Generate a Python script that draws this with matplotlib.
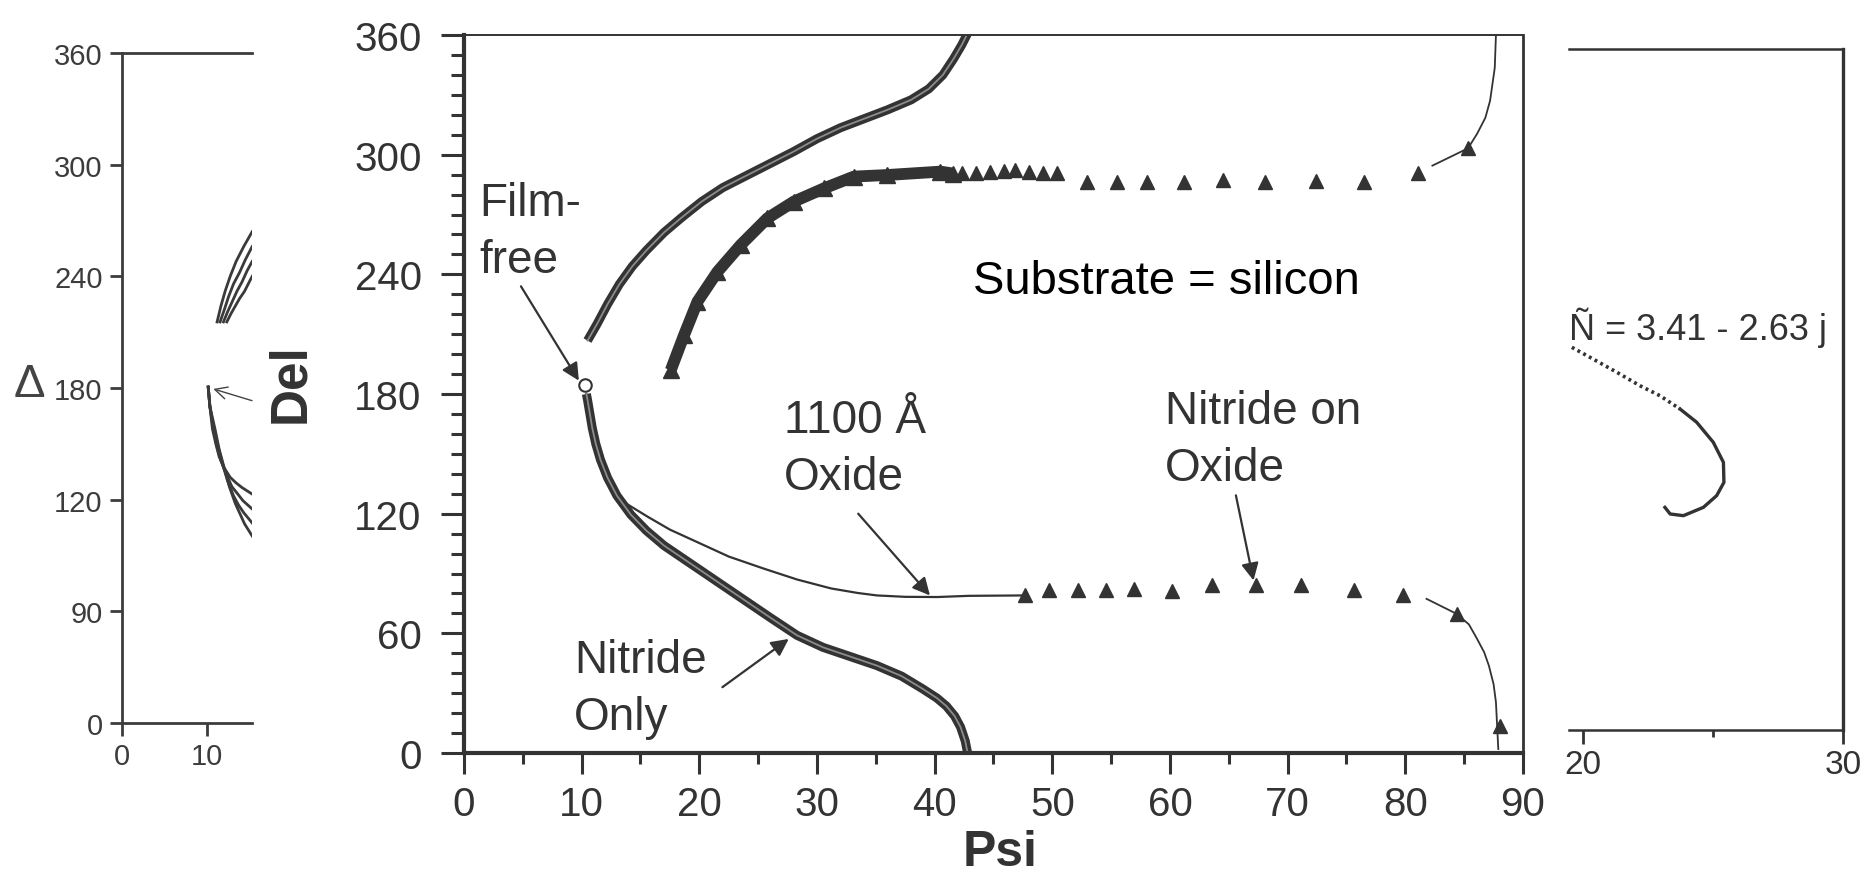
import matplotlib.pyplot as plt
from matplotlib.ticker import FixedLocator, MultipleLocator

plt.rcParams['font.family'] = ['Liberation Sans', 'DejaVu Sans']

INK = '#333333'
W, H = 1874, 878

# ---- main panel (Psi / Del) ----
nitride_up_psi = [10.5, 11.3, 12.2, 13.2, 14.3, 15.5, 17.0, 18.5, 20.2, 22.0, 24.0, 26.0, 28.0,
                  30.0, 32.0, 34.0, 36.0, 38.0, 39.5, 40.7, 41.6, 42.3, 42.9]
nitride_up_del = [206.8, 215, 225, 235, 244, 252, 261, 268.5, 276.5, 283.5, 289.5, 295.5, 301.5,
                  308, 313.5, 318, 322.5, 327.5, 333, 340, 348, 355, 362]

nitride_lo_psi = [10.4, 10.5, 10.7, 10.9, 11.2, 11.6, 12.2, 13.0, 14.18, 15.5, 17.0, 18.5, 20.0,
                  22.0, 24.0, 26.0, 28.3, 30.5, 33.0, 35.1, 37.2, 39.0, 40.2, 41.0, 41.7, 42.2,
                  42.6, 42.8]
nitride_lo_del = [180, 177, 170, 163, 155, 147, 138, 129, 119.5, 111.5, 104, 98, 92,
                  84, 76, 68, 59, 53, 48, 43.8, 38.5, 32.1, 27.5, 23.5, 18.5, 13,
                  6, 0]

oxide_psi = [10.4, 10.5, 10.7, 10.9, 11.2, 11.6, 12.2, 12.8, 13.8, 15.6, 17.5, 19.8, 22.5,
             25.5, 28.3, 31.2, 33.5, 35.1, 37.5, 40.2, 42.9, 47.6]
oxide_del = [180, 177, 170, 163, 155, 147, 138.5, 131.5, 125, 118.5, 112, 105.8, 98.5,
             92.4, 87, 82.5, 80.2, 79.0, 78.3, 78.2, 78.8, 79.0]

dense_psi = [17.57, 18.7, 19.84, 21.54, 23.51, 25.78, 28.04, 30.59, 33.13, 35.97, 40.49, 41.6]
dense_del = [191.9, 209.5, 226.3, 241.3, 254.7, 268.1, 276.5, 283.1, 289.0, 289.8, 291.5, 290.5]

tri_up_psi = [42.34, 43.52, 44.7, 45.87, 46.85, 48.03, 49.21, 50.39, 52.94, 55.49, 58.04, 61.19,
              64.52, 68.06, 72.37, 76.5, 81.09, 85.33]
tri_up_del = [290.7, 290.7, 291.5, 291.8, 292.3, 291.5, 290.7, 291.0, 286.5, 286.5, 286.5, 286.5,
              287.3, 286.5, 286.8, 286.5, 290.7, 303.2]

tri_lo_psi = [47.64, 49.68, 52.15, 54.59, 56.95, 60.2, 63.54, 67.35, 71.12, 75.63, 79.83, 84.35, 88.08]
tri_lo_del = [79.0, 81.5, 81.5, 81.5, 82.3, 81.0, 84.3, 84.0, 84.3, 81.5, 79.0, 69.8, 13.7]

tail_up_psi = [82.3, 85.33, 86.1, 86.8, 87.2, 87.6, 87.7]
tail_up_del = [294.5, 303.2, 310.5, 318.5, 327.0, 343.5, 360.0]

tail_lo_psi = [81.8, 84.35, 85.4, 86.1, 86.7, 87.1, 87.5, 87.7, 87.9]
tail_lo_del = [77.3, 69.8, 64.5, 57.2, 50.5, 43.8, 34.5, 25.5, 2.0]

film_free = (10.27, 184.4)

main_xticks = [0, 10, 20, 30, 40, 50, 60, 70, 80, 90]
main_yticks = [0, 60, 120, 180, 240, 300, 360]

# ---- left panel (cut off at the right) ----
left_up_psi = [[11.25, 11.7, 12.2, 12.8, 13.5, 14.4, 15.4], [11.6, 12.1, 12.6, 13.2, 13.9, 14.6, 15.4],
               [12.0, 12.5, 13.0, 13.6, 14.2, 14.8, 15.4], [12.4, 12.9, 13.4, 13.9, 14.5, 15.0, 15.4]]
left_up_del = [[215.5, 224, 232, 240, 248, 256, 264], [215.5, 222, 229, 236, 242, 249, 256],
               [215.5, 221, 226, 232, 237, 243, 248], [215.5, 220, 224, 228, 232, 236.5, 240]]
left_lo_psi = [[10.2, 10.4, 10.7, 11.1, 11.5, 12.1, 12.8, 13.5, 14.2, 15.4],
               [10.2, 10.4, 10.8, 11.2, 11.7, 12.3, 13.0, 13.7, 14.3, 15.4],
               [10.2, 10.4, 10.9, 11.4, 11.9, 12.5, 13.2, 13.8, 14.4, 15.4],
               [10.2, 10.4, 11.0, 11.5, 12.1, 12.7, 13.4, 14.0, 14.5, 15.4]]
left_lo_del = [[180.5, 170, 158, 150, 143, 137, 132, 129, 126.5, 123],
               [180.5, 170, 158, 149, 141, 134, 127, 123, 119.5, 115],
               [180.5, 170, 158, 148, 139, 130, 122, 117, 113, 107.5],
               [180.5, 170, 158, 147, 137, 127, 118, 112, 107, 100.5]]
left_yticks = [0, 60, 120, 180, 240, 300, 360]
left_ylabels = ['0', '90', '120', '180', '240', '300', '360']
left_xticks = [0, 10]

# ---- right panel (cut off at the left) ----
right_dot_psi = [19.57, 20.27, 21.30, 22.19, 22.96, 23.73]
right_dot_del = [202.3, 197.0, 189.1, 182.0, 176.7, 169.7]
right_psi = [23.73, 24.37, 25.01, 25.40, 25.42, 25.14, 24.63, 23.86, 23.35, 23.15]
right_del = [169.7, 162.7, 152.1, 141.5, 130.9, 123.9, 117.7, 113.3, 114.2, 117.7]
right_xticks = [20, 30]


def box(l, t, r, b):
    return [l / W, 1 - b / H, (r - l) / W, (b - t) / H]


fig = plt.figure(figsize=(W / 100, H / 100), dpi=100)

# main axes
ax = fig.add_axes(box(464, 36, 1523, 754))
ax.set_xlim(0, 90)
ax.set_ylim(0, 360)
ax.spines['left'].set_linewidth(3)
ax.spines['bottom'].set_linewidth(3)
ax.spines['top'].set_linewidth(1.4)
ax.spines['right'].set_linewidth(2)
for s in ax.spines.values():
    s.set_color(INK)
ax.xaxis.set_major_locator(FixedLocator(main_xticks))
ax.yaxis.set_major_locator(FixedLocator(main_yticks))
ax.xaxis.set_minor_locator(MultipleLocator(5))
ax.yaxis.set_minor_locator(MultipleLocator(10))
ax.tick_params(axis='both', which='both', direction='out', color=INK, width=2.2,
               labelcolor=INK, labelsize=29)
ax.tick_params(axis='y', which='major', length=16.5, pad=14)
ax.tick_params(axis='y', which='minor', length=9.5)
ax.tick_params(axis='x', which='major', length=15, pad=8)
ax.tick_params(axis='x', which='minor', length=8)

thick = dict(color=INK, lw=6.5, solid_capstyle='butt', solid_joinstyle='round')
ax.plot(nitride_up_psi, nitride_up_del, **thick)
ax.plot(nitride_up_psi, nitride_up_del, color='#8c8c8c', lw=1.3)
ax.plot(oxide_psi, oxide_del, color=INK, lw=1.6)
ax.plot(nitride_lo_psi, nitride_lo_del, **thick)
ax.plot(nitride_lo_psi, nitride_lo_del, color='#8c8c8c', lw=1.3)
ax.plot(dense_psi, dense_del, color=INK, lw=8.5, marker='^', ms=11,
        solid_capstyle='butt', solid_joinstyle='round')
ax.plot(tri_up_psi, tri_up_del, ls='none', marker='^', ms=10, color=INK)
ax.plot(tri_lo_psi, tri_lo_del, ls='none', marker='^', ms=10, color=INK)
ax.plot(tail_up_psi, tail_up_del, color=INK, lw=1.3)
ax.plot(tail_lo_psi, tail_lo_del, color=INK, lw=1.3)
ax.plot(*film_free, marker='o', ms=9, mfc='white', mec=INK, mew=1.5, zorder=5)

txt = dict(fontsize=33, color=INK, ha='left', va='baseline', linespacing=1.38)
ax.text(1.27, 241.3, 'Film-\nfree', **txt)
ax.text(27.2, 132.5, '1100 Å\nOxide', **txt)
ax.text(59.6, 136.7, 'Nitride on\nOxide', **txt)
ax.text(9.34, 12.0, 'Nitride\nOnly', **txt)
ax.text(59.7, 236.5, 'Substrate = silicon', fontsize=34, color='black', ha='center', va='center')

arrow = dict(arrowstyle='-|>', color=INK, lw=1.6, mutation_scale=26, shrinkA=0, shrinkB=0)
ax.annotate('', xy=(9.76, 186.7), xytext=(4.84, 234), arrowprops=arrow)
ax.annotate('', xy=(39.6, 79), xytext=(33.5, 120), arrowprops=arrow)
ax.annotate('', xy=(67.1, 86.5), xytext=(65.6, 129.2), arrowprops=arrow)
ax.annotate('', xy=(27.6, 57.2), xytext=(21.96, 33), arrowprops=arrow)

# left panel
axl = fig.add_axes(box(122, 54, 252, 724))
axl.set_xlim(0, 15.38)
axl.set_ylim(0, 360)
axl.spines['right'].set_visible(False)
for s in ['left', 'top', 'bottom']:
    axl.spines[s].set_linewidth(2)
    axl.spines[s].set_color('#3c3c3c')
axl.set_yticks(left_yticks)
axl.set_yticklabels(left_ylabels)
axl.set_xticks(left_xticks)
axl.tick_params(direction='out', length=9, width=2, color='#3c3c3c',
                labelcolor='#3c3c3c', labelsize=21, pad=5)
for xs, ys in zip(left_up_psi, left_up_del):
    axl.plot(xs, ys, color='#3a3a3a', lw=2)
for xs, ys in zip(left_lo_psi, left_lo_del):
    axl.plot(xs, ys, color='#3a3a3a', lw=2)
axl.annotate('', xy=(10.8, 179.5), xytext=(15.38, 173.2),
             arrowprops=dict(arrowstyle='->', color='#444444', lw=1.0, mutation_scale=22,
                             shrinkA=0, shrinkB=0), annotation_clip=False)

# right panel
axr = fig.add_axes(box(1569, 50, 1843, 731))
axr.set_xlim(19.46, 30)
axr.set_ylim(0, 360)
axr.spines['left'].set_visible(False)
for s in ['right', 'top', 'bottom']:
    axr.spines[s].set_color('#333333')
axr.spines['right'].set_linewidth(2.4)
axr.spines['top'].set_linewidth(1.8)
axr.spines['bottom'].set_linewidth(1.8)
axr.set_yticks([])
axr.xaxis.set_major_locator(FixedLocator(right_xticks))
axr.xaxis.set_minor_locator(MultipleLocator(5))
axr.tick_params(axis='x', which='both', direction='out', width=2, color=INK,
                labelcolor=INK, labelsize=24)
axr.tick_params(axis='x', which='major', length=10, pad=4)
axr.tick_params(axis='x', which='minor', length=5)
axr.plot(right_dot_psi, right_dot_del, color=INK, lw=2.6, ls=(0, (0.8, 1.0)))
axr.plot(right_psi, right_del, color=INK, lw=2.4, solid_joinstyle='round')
axr.text(19.47, 206.7, 'Ñ = 3.41 - 2.63 j', fontsize=26, color=INK, ha='left', va='baseline')

# axis titles placed in figure pixels
fig.text(291 / W, 1 - 383 / H, 'Del', rotation=90, ha='center', va='center',
         fontsize=37, weight='bold', color=INK)
fig.text(1000 / W, 1 - 866 / H, 'Psi', ha='center', va='baseline',
         fontsize=36, weight='bold', color=INK)
fig.text(29 / W, 1 - 385 / H, 'Δ', ha='center', va='center', fontsize=34, color='#444444')

fig.savefig('out.png', dpi=100)
